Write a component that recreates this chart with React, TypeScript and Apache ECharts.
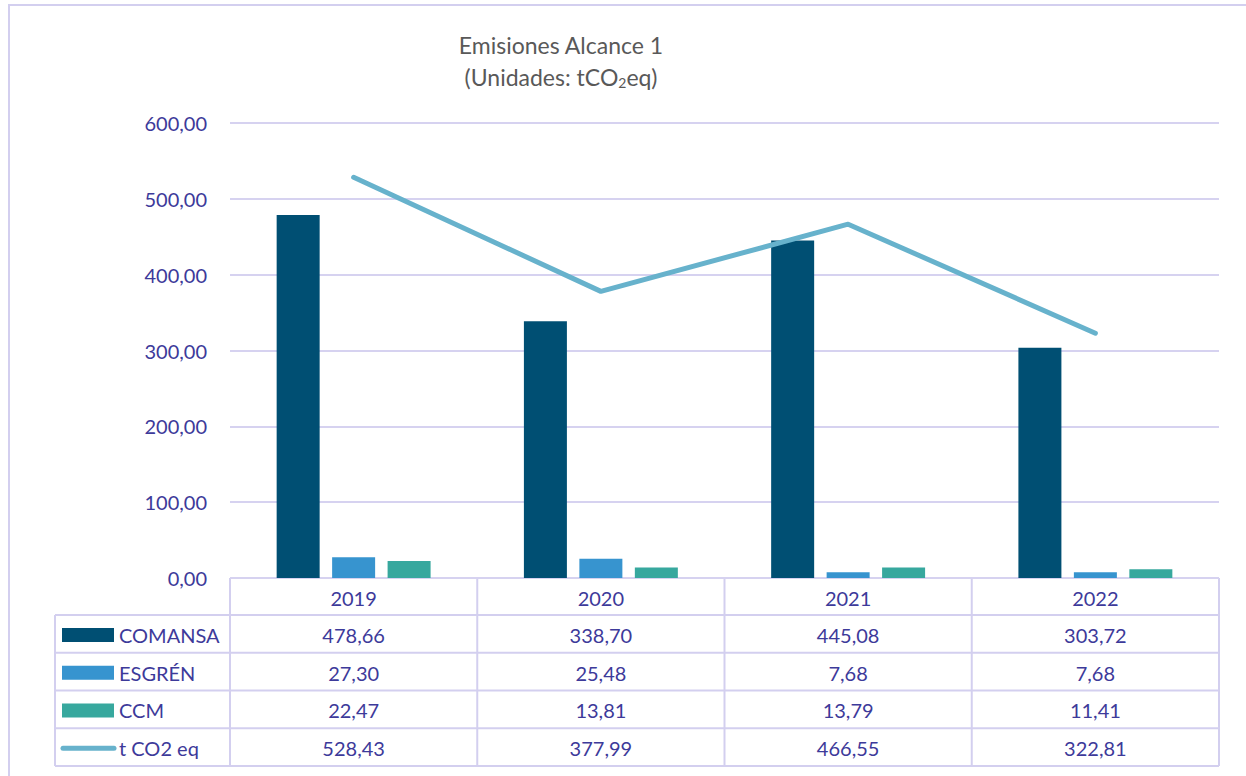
import React, { useEffect, useRef } from "react";
import * as echarts from "echarts";

const years = ["2019", "2020", "2021", "2022"];
const seriesNames = ["COMANSA", "ESGRÉN", "CCM", "t CO2 eq"];
const comansa = [478.66, 338.7, 445.08, 303.72];
const esgren = [27.3, 25.48, 7.68, 7.68];
const ccm = [22.47, 13.81, 13.79, 11.41];
const totalCO2 = [528.43, 377.99, 466.55, 322.81];
const colors = ["#004F73", "#3794CF", "#37A89E", "#67B2CC"];

const fmt = (v: number) => v.toFixed(2).replace(".", ",");

const FONT = "Lato";
const TXT = "#3D3A9A";
const BORDER = "#D3CFEF";

export default function App() {
  const ref = useRef<HTMLDivElement>(null);
  useEffect(() => {
    if (!ref.current) return;
    const chart = echarts.init(ref.current, undefined, { renderer: "svg" });

    const gL = 230, gR = 1219, gTop = 123, gBot = 578;
    const colW = (gR - gL) / years.length;
    const tableLeft = 55;
    const headerBot = 615;
    const rowH = (766 - headerBot) / 4;
    const allData = [comansa, esgren, ccm, totalCO2];

    const graphics: any[] = [];
    graphics.push({
      type: "rect",
      shape: { x: 9, y: 5, width: 1260, height: 800 },
      style: { fill: "none", stroke: BORDER, lineWidth: 2 },
      silent: true,
    });
    graphics.push({
      type: "line",
      shape: { x1: gL, y1: gBot, x2: gR, y2: gBot },
      style: { stroke: BORDER, lineWidth: 2 },
    });
    for (let r = 0; r <= 4; r++) {
      const y = headerBot + r * rowH;
      graphics.push({
        type: "line",
        shape: { x1: tableLeft, y1: y, x2: gR, y2: y },
        style: { stroke: BORDER, lineWidth: 2 },
      });
    }
    graphics.push({
      type: "line",
      shape: { x1: tableLeft, y1: headerBot, x2: tableLeft, y2: headerBot + 4 * rowH },
      style: { stroke: BORDER, lineWidth: 2 },
    });
    for (let c = 0; c <= years.length; c++) {
      const x = gL + c * colW;
      graphics.push({
        type: "line",
        shape: { x1: x, y1: gBot, x2: x, y2: headerBot + 4 * rowH },
        style: { stroke: BORDER, lineWidth: 2 },
      });
    }
    years.forEach((yr, c) => {
      graphics.push({
        type: "text",
        x: gL + (c + 0.5) * colW,
        y: (gBot + headerBot) / 2 + 1,
        style: {
          text: yr,
          fill: TXT,
          font: `20px ${FONT}`,
          textAlign: "center",
          textVerticalAlign: "middle",
        },
      });
    });
    seriesNames.forEach((name, r) => {
      const cy = headerBot + (r + 0.5) * rowH + 1;
      if (r < 3) {
        graphics.push({
          type: "rect",
          shape: { x: 62, y: cy - 7, width: 52, height: 14 },
          style: { fill: colors[r] },
        });
      } else {
        graphics.push({
          type: "line",
          shape: { x1: 63, y1: cy, x2: 114, y2: cy },
          style: { stroke: colors[r], lineWidth: 5, lineCap: "round" },
        });
      }
      graphics.push({
        type: "text",
        x: 119,
        y: cy,
        style: {
          text: name,
          fill: TXT,
          font: `20px ${FONT}`,
          textAlign: "left",
          textVerticalAlign: "middle",
        },
      });
      allData[r].forEach((v, c) => {
        graphics.push({
          type: "text",
          x: gL + (c + 0.5) * colW,
          y: cy,
          style: {
            text: fmt(v),
            fill: TXT,
            font: `20px ${FONT}`,
            textAlign: "center",
            textVerticalAlign: "middle",
          },
        });
      });
    });

    chart.setOption({
      animation: false,
      backgroundColor: "#ffffff",
      title: {
        text: "Emisiones Alcance 1\n(Unidades: tCO{sub|2}eq)",
        left: 556,
        top: 24,
        textAlign: "center",
        textStyle: {
          fontFamily: FONT,
          fontSize: 23,
          fontWeight: "normal",
          color: "#595959",
          lineHeight: 32,
          rich: {
            sub: {
              fontFamily: FONT,
              fontSize: 14,
              color: "#595959",
              lineHeight: 14,
              verticalAlign: "middle",
              padding: [11, 0, 0, 0],
            },
          },
        },
      },
      grid: { left: gL, right: 1246 - gR, top: gTop, bottom: 776 - gBot },
      xAxis: {
        type: "category",
        data: years,
        axisLine: { show: false },
        axisTick: { show: false },
        axisLabel: { show: false },
      },
      yAxis: {
        type: "value",
        min: 0,
        max: 600,
        interval: 100,
        axisLine: { show: false },
        axisTick: { show: false },
        splitLine: { lineStyle: { color: "#D6D2F0", width: 2 } },
        axisLabel: {
          formatter: (v: number) => fmt(v),
          color: TXT,
          fontFamily: FONT,
          fontSize: 20,
          margin: 23,
        },
      },
      series: [
        {
          name: seriesNames[0],
          type: "bar",
          data: comansa,
          barWidth: 43,
          barGap: "29%",
          itemStyle: { color: colors[0] },
        },
        {
          name: seriesNames[1],
          type: "bar",
          data: esgren,
          barWidth: 43,
          barGap: "29%",
          itemStyle: { color: colors[1] },
        },
        {
          name: seriesNames[2],
          type: "bar",
          data: ccm,
          barWidth: 43,
          barGap: "29%",
          itemStyle: { color: colors[2] },
        },
        {
          name: seriesNames[3],
          type: "line",
          data: totalCO2,
          symbol: "none",
          z: 5,
          lineStyle: { color: colors[3], width: 5, cap: "round", join: "round" },
        },
      ],
      graphic: graphics,
    });

    return () => chart.dispose();
  }, []);

  return (
    <div
      ref={ref}
      style={{ position: "absolute", left: 0, top: 0, width: 1246, height: 776 }}
    />
  );
}
